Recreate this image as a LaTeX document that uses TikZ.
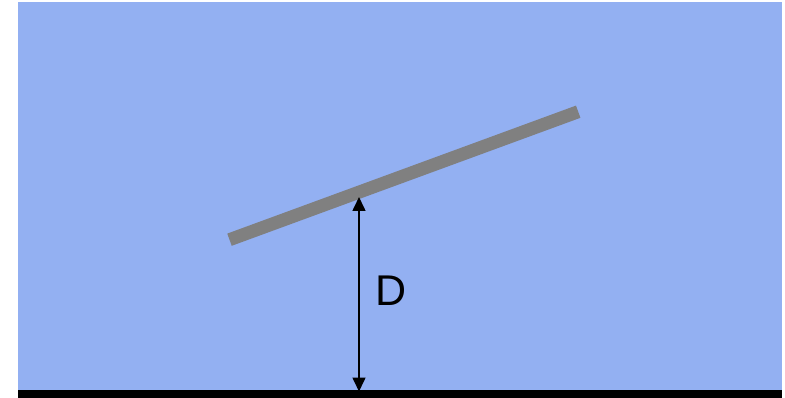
\documentclass[tikz,border=0pt]{standalone}
\usepackage{fontspec}
\setmainfont{Liberation Sans}
\usetikzlibrary{arrows.meta}
\definecolor{skyblue}{RGB}{147,176,242}
\definecolor{bargray}{RGB}{128,128,128}
\tikzset{
  dimarrow/.style={line width=1.6pt, {Triangle[length=14pt,width=13pt]}-{Triangle[length=14pt,width=13pt]}},
  barline/.style={bargray, line width=13pt},
}
\begin{document}
\begin{tikzpicture}[x=1pt,y=-1pt]
\useasboundingbox (0,0) rectangle (785,398);
\fill[skyblue] (18,2) rectangle (782,391);
\fill[black] (18,390) rectangle (782,398);
\coordinate (barL) at (229.5,239.7);
\coordinate (barR) at (578.2,111.7);
\draw[barline] (barL) -- (barR);
\coordinate (top) at (359,197);
\coordinate (bot) at (359,391.5);
\draw[dimarrow] (top) -- (bot);
\node[font=\fontsize{43}{43}\selectfont, inner sep=0pt] (D) at (391,290.5) {D};
\end{tikzpicture}
\end{document}
